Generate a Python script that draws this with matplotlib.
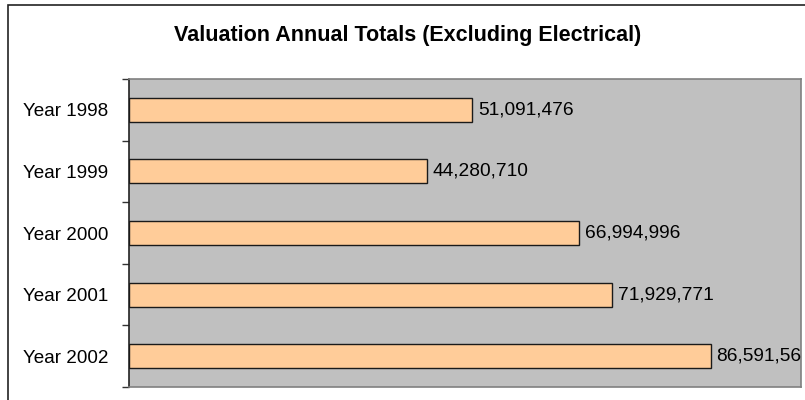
import matplotlib
matplotlib.use("Agg")
import matplotlib.pyplot as plt
from matplotlib.patches import Rectangle

plt.rcParams['font.family'] = ['Liberation Sans', 'DejaVu Sans']

# annual valuation totals, top to bottom
years = ['Year 1998', 'Year 1999', 'Year 2000', 'Year 2001', 'Year 2002']
totals = [51091476, 44280710, 66994996, 71929771, 86591565]

fig = plt.figure(figsize=(8.05, 4.0), dpi=100)
fig.patch.set_facecolor('white')

# outer chart frame (runs past the right/bottom edge)
fig.patches.append(Rectangle((8 / 805, -0.5), 2.0, 1.5 - 5 / 400,
                             transform=fig.transFigure, fill=False,
                             edgecolor='#222222', linewidth=1.2, zorder=0))

ax = fig.add_axes([129 / 805, 13 / 400, 672 / 805, 308 / 400])
ax.set_facecolor('#C0C0C0')

pos = list(range(len(years)))
ax.barh(pos, totals, height=0.39, color='#FFCC99', edgecolor='#1a1a1a',
        linewidth=1.0, zorder=3)

for p, v in zip(pos, totals):
    ax.annotate(f'{v:,}', xy=(v, p), xytext=(4, 0), textcoords='offset points',
                va='center', ha='left', fontsize=13.8, color='black',
                annotation_clip=False, clip_on=True, zorder=4)

ax.set_xlim(0, 100000000)
ax.set_ylim(len(years) - 0.5, -0.5)

# category boundaries get the tick marks, labels sit at the centres
ax.set_yticks([i - 0.5 for i in range(len(years) + 1)])
ax.set_yticklabels([])
ax.set_yticks(pos, minor=True)
ax.set_yticklabels(years, minor=True, fontsize=13.6)
ax.tick_params(axis='y', which='major', length=5, width=1, color='#333333',
               direction='out')
ax.tick_params(axis='y', which='minor', length=0, pad=15)
ax.set_xticks([])

ax.spines['left'].set_color('#222222')
ax.spines['left'].set_linewidth(1.2)
for s in ('top', 'right', 'bottom'):
    ax.spines[s].set_color('#808080')
    ax.spines[s].set_linewidth(1.2)

fig.text(407.5 / 805, 1 - 35 / 400, 'Valuation Annual Totals (Excluding Electrical)',
         ha='center', va='center', fontsize=15.5, fontweight='bold')

fig.savefig('out.png', dpi=100)
